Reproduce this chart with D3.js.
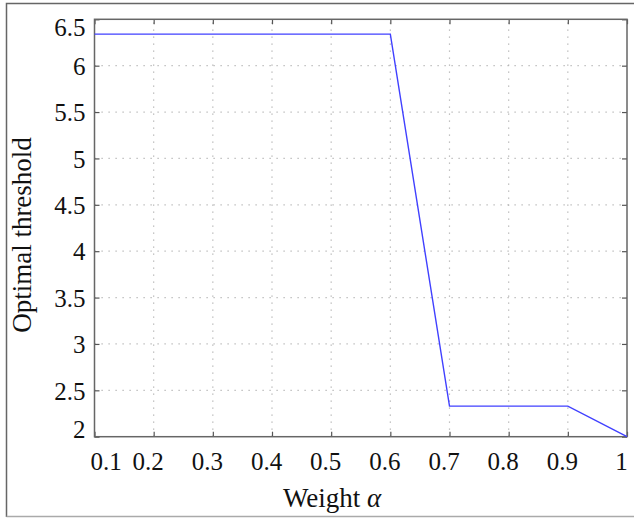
<!DOCTYPE html>
<html>
<head>
<meta charset="utf-8">
<script src="https://cdn.jsdelivr.net/npm/d3@7"></script>
<style>
  body { margin: 0; background: #fff; }
  svg { display: block; font-family: "Liberation Serif", "Times New Roman", serif; }
  .grid line { stroke: #b0b0b0; stroke-width: 1.2; stroke-dasharray: 1.2,5.8; }
  .tick-lbl { font-family: "Liberation Serif", "Times New Roman", serif; font-size: 25px; fill: #111; }
</style>
</head>
<body>
<svg id="chart" width="634" height="518"></svg>
<script>
// data
const weights    = [0.1, 0.6, 0.7, 0.9, 1.0];
const thresholds = [6.34, 6.34, 2.33, 2.33, 2.0];
const xTicks     = [0.1, 0.2, 0.3, 0.4, 0.5, 0.6, 0.7, 0.8, 0.9, 1];
const yTicks     = [2, 2.5, 3, 3.5, 4, 4.5, 5, 5.5, 6, 6.5];

const svg = d3.select('#chart');

// plot box ('top' is taken by window.top, so box* names)
const boxL = 94.5, boxR = 627, boxT = 19.3, boxB = 436.7;

const x = d3.scaleLinear().domain([0.1, 1]).range([boxL, boxR]);
const y = d3.scaleLinear().domain([2, 6.5]).range([boxB, boxT]);

// outer figure border (right side runs off the picture)
svg.append('path')
  .attr('d', `M6.5,517 L6.5,3.5 L640,3.5`)
  .attr('fill', 'none').attr('stroke', '#666').attr('stroke-width', 1.5);
svg.append('line')
  .attr('x1', 6.5).attr('x2', 640).attr('y1', 516.5).attr('y2', 516.5)
  .attr('stroke', '#aaa').attr('stroke-width', 1.5);

// dotted grid
const grid = svg.append('g').attr('class', 'grid');
grid.selectAll('.vg')
  .data(xTicks.filter(d => d > 0.1 && d < 1))
  .join('line')
  .attr('x1', d => x(d)).attr('x2', d => x(d))
  .attr('y1', boxB).attr('y2', boxT);
grid.selectAll('.hg')
  .data(yTicks.filter(d => d > 2 && d < 6.5))
  .join('line')
  .attr('y1', d => y(d)).attr('y2', d => y(d))
  .attr('x1', boxL).attr('x2', boxR);

// axes: tick marks pointing inward, labels nudged like the matlab export
const xAxis = d3.axisBottom(x).tickValues(xTicks).tickSize(-5).tickPadding(16)
  .tickFormat(d => d === 1 ? '1' : d3.format('.1f')(d));
const gx = svg.append('g').attr('transform', `translate(0,${boxB})`).call(xAxis);
gx.select('.domain').remove();
gx.selectAll('line').attr('stroke', '#555').attr('stroke-width', 1.2);
gx.selectAll('text')
  .attr('class', 'tick-lbl')
  .attr('dy', '0.71em')
  .attr('dx', (d, i) => i === 0 ? 11 : -6);

const xTop = d3.axisTop(x).tickValues(xTicks).tickSize(-5).tickFormat('');
const gxt = svg.append('g').attr('transform', `translate(0,${boxT})`).call(xTop);
gxt.select('.domain').remove();
gxt.selectAll('line').attr('stroke', '#555').attr('stroke-width', 1.2);

const yAxis = d3.axisLeft(y).tickValues(yTicks).tickSize(-5).tickPadding(9)
  .tickFormat(d => d3.format('')(d));
const gy = svg.append('g').attr('transform', `translate(${boxL},0)`).call(yAxis);
gy.select('.domain').remove();
gy.selectAll('line').attr('stroke', '#555').attr('stroke-width', 1.2);
gy.selectAll('text')
  .attr('class', 'tick-lbl')
  .attr('dy', (d, i) => i === 0 ? '0.05em' : (i === yTicks.length - 1 ? '0.63em' : '0.35em'));

const yRight = d3.axisRight(y).tickValues(yTicks).tickSize(-5).tickFormat('');
const gyr = svg.append('g').attr('transform', `translate(${boxR},0)`).call(yRight);
gyr.select('.domain').remove();
gyr.selectAll('line').attr('stroke', '#555').attr('stroke-width', 1.2);

// box
svg.append('rect')
  .attr('x', boxL).attr('y', boxT)
  .attr('width', boxR - boxL).attr('height', boxB - boxT)
  .attr('fill', 'none').attr('stroke', '#666').attr('stroke-width', 1.5);

// the curve
const line = d3.line().x((d, i) => x(weights[i])).y(d => y(d));
svg.append('path')
  .datum(thresholds)
  .attr('d', line)
  .attr('fill', 'none')
  .attr('stroke', '#4040ff')
  .attr('stroke-width', 1.4);

// axis titles
const xTitle = svg.append('text')
  .attr('x', 332).attr('y', 507)
  .attr('text-anchor', 'middle')
  .style('font-size', '27px').attr('fill', '#111');
xTitle.append('tspan').text('Weight ');
xTitle.append('tspan').style('font-style', 'italic').text('α');

svg.append('text')
  .attr('transform', 'translate(31,235) rotate(-90)')
  .attr('text-anchor', 'middle')
  .style('font-size', '27px').attr('fill', '#111')
  .text('Optimal threshold');
</script>
</body>
</html>
